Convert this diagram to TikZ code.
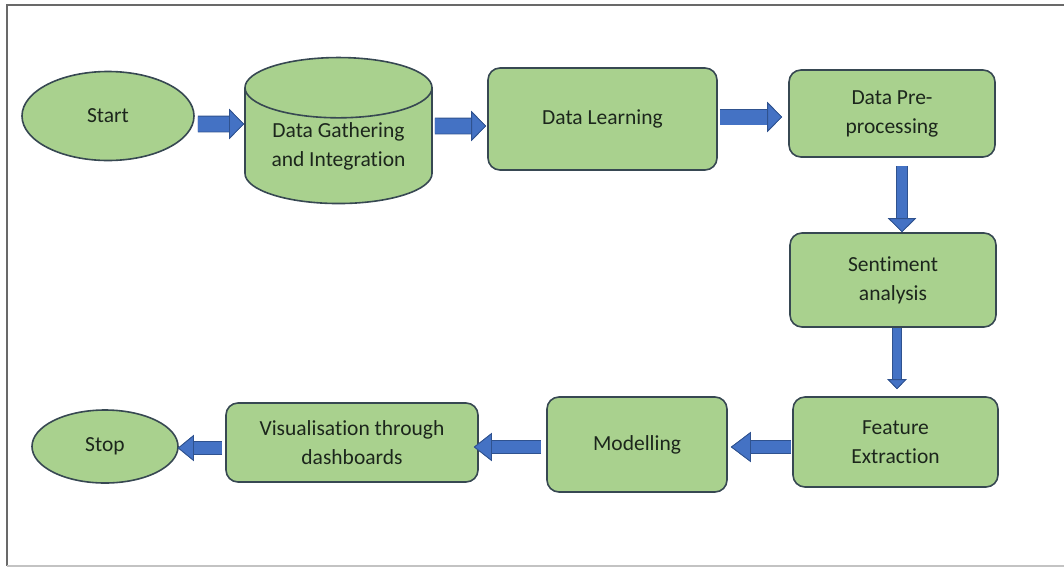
\documentclass[tikz,border=0pt]{standalone}
\usepackage{fontspec}
\setmainfont{Carlito}[Ligatures=NoCommon]
\usepackage{tikz}
\usetikzlibrary{shapes.geometric, arrows.meta, positioning, calc}
\definecolor{boxgreen}{RGB}{169,209,142}
\definecolor{boxedge}{RGB}{55,72,82}
\definecolor{arrowblue}{RGB}{68,114,196}
\definecolor{arrowedge}{RGB}{47,82,143}
\definecolor{framegray}{RGB}{105,105,105}
\definecolor{framelight}{RGB}{195,195,195}
\definecolor{textdark}{RGB}{28,38,28}

\tikzset{
    flowbox/.style={draw=boxedge, fill=boxgreen, line width=1.6pt, rounded corners=12pt,
        align=center, inner sep=0pt, text=textdark,
        font=\fontsize{21.5}{29}\selectfont},
    endpoint/.style={flowbox, ellipse, rounded corners=0pt},
    store/.style={flowbox, cylinder, shape border rotate=90, aspect=0.45, rounded corners=0pt},
    bigarrow/.style n args={3}{draw=arrowedge, line width=#1,
        preaction={draw=arrowedge, line width=#1+1.6pt},
        color=arrowblue,
        -{Triangle[length=#3, width=#2, line width=0.8pt, fill=arrowblue, color=arrowedge]}},
}

\begin{document}
\begin{tikzpicture}[x=1pt, y=-1pt]
    \useasboundingbox (0,0) rectangle (1064,568);
    % Frame (no right edge)
    \draw[framegray, line width=1.8pt] (1064,5) -- (7,5) -- (7,566);
    \draw[framelight, line width=1.5pt] (7,566) -- (1064,566);

    % Top row
    \node[endpoint, minimum width=172pt, minimum height=89pt] (start) at (108,116) {Start};
    \node[store, minimum width=187pt, minimum height=146pt] (gather) at (338.5,146) {Data Gathering\\and Integration};
    \node[flowbox, minimum width=229pt, minimum height=102pt] (learn) at (602.5,119) {Data Learning};
    \node[flowbox, minimum width=206pt, minimum height=87pt] (prep) at (892,113.5) {Data Pre-\\processing};

    % Right column
    \node[flowbox, minimum width=206pt, minimum height=94pt] (senti) at (893,280) {Sentiment\\analysis};
    \node[flowbox, minimum width=205pt, minimum height=90pt] (feat) at (895.5,442) {Feature\\Extraction};

    % Bottom row
    \node[flowbox, minimum width=180pt, minimum height=95pt] (model) at (637,444.5) {Modelling};
    \node[flowbox, minimum width=252pt, minimum height=79pt] (visual) at (352,442.5) {Visualisation through\\dashboards};
    \node[endpoint, minimum width=146pt, minimum height=73pt] (stop) at (105,446.5) {Stop};

    % Arrows
    \draw[bigarrow={15pt}{30pt}{15pt}] ($(start.east)+(3,8)$) -- ($(gather.west)+(0,-22)$);
    \draw[bigarrow={15pt}{30pt}{15pt}] ($(gather.east)+(2,-20)$) -- ($(learn.west)+(-1,7)$);
    \draw[bigarrow={15pt}{30pt}{15pt}] ($(learn.east)+(2,-2)$) -- ($(prep.west)+(-6,3.5)$);
    \draw[bigarrow={10pt}{28pt}{14pt}] ($(prep.south)+(10,8)$) -- ($(senti.north)+(9,0)$);
    \draw[bigarrow={8pt}{19pt}{10pt}] ($(senti.south)+(4,0)$) -- ($(feat.north)+(1.5,-7)$);
    \draw[bigarrow={12pt}{30pt}{20pt}] ($(feat.west)+(-1,5)$) -- ($(model.east)+(3,2.5)$);
    \draw[bigarrow={12pt}{28pt}{18pt}] ($(model.west)+(-5,2.5)$) -- ($(visual.east)+(-5,4.5)$);
    \draw[bigarrow={12pt}{26pt}{16pt}] ($(visual.west)+(-3,5.5)$) -- ($(stop.east)+(-1,1.5)$);
\end{tikzpicture}
\end{document}
